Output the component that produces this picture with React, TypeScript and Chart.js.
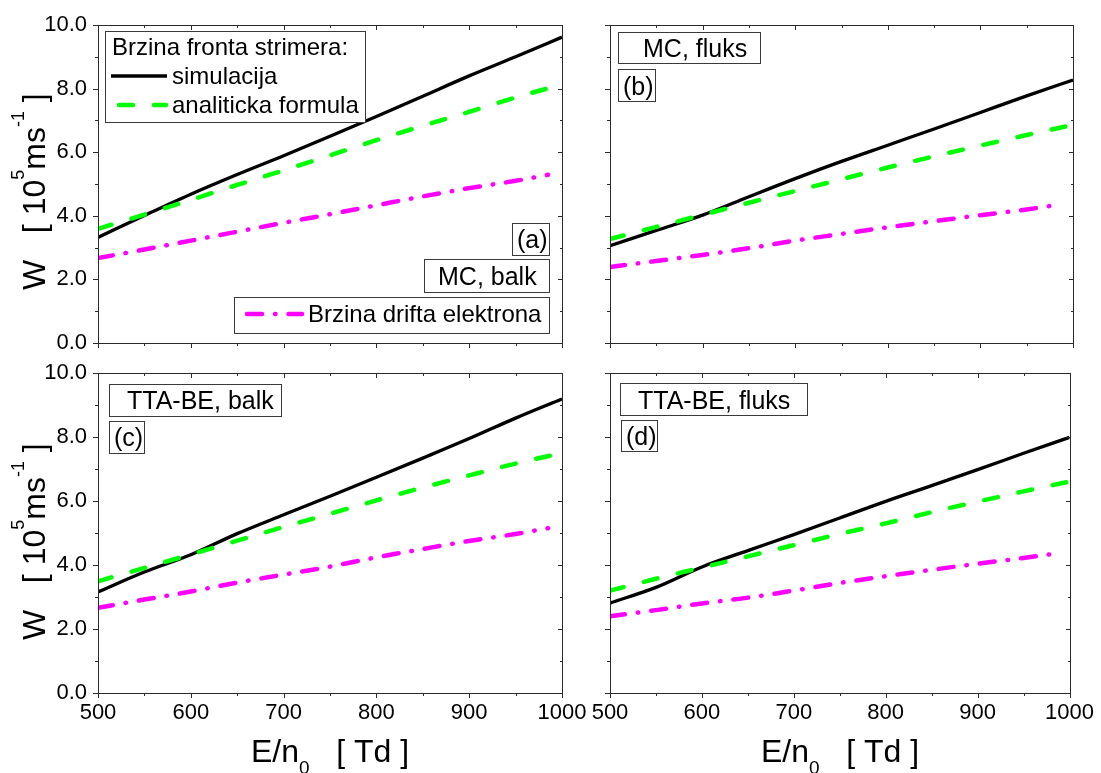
import React, { useEffect, useRef } from 'react';
import { Chart, registerables } from 'chart.js';

Chart.register(...registerables);

// ---------------- data ----------------
const E_SIM = [500, 550, 600, 650, 700, 750, 800, 850, 900, 950, 1000];
const E_DRIFT = [500, 550, 600, 650, 700, 750, 800, 850, 900, 950, 985];

const X_MAJOR = [500, 600, 700, 800, 900, 1000];
const X_MINOR = [550, 650, 750, 850, 950];
const Y_MAJOR = [0, 2, 4, 6, 8, 10];
const Y_MINOR = [1, 3, 5, 7, 9];

// (a) MC, balk
const A_SIM = [3.32, 4.01, 4.68, 5.30, 5.89, 6.50, 7.12, 7.76, 8.40, 9.00, 9.62];
const A_FORMULA = [3.59, 4.04, 4.50, 4.97, 5.43, 5.90, 6.38, 6.83, 7.27, 7.72, 8.13];
const A_DRIFT = [2.67, 2.94, 3.22, 3.50, 3.78, 4.05, 4.33, 4.61, 4.87, 5.10, 5.29];
// (b) MC, fluks
const B_SIM = [3.06, 3.54, 4.02, 4.60, 5.17, 5.71, 6.22, 6.73, 7.25, 7.77, 8.27];
const B_FORMULA = [3.27, 3.65, 4.03, 4.41, 4.78, 5.15, 5.52, 5.87, 6.21, 6.54, 6.86];
const B_DRIFT = [2.39, 2.58, 2.77, 2.98, 3.22, 3.43, 3.64, 3.83, 4.02, 4.20, 4.35];
// (c) TTA-BE, balk
const C_SIM = [3.16, 3.78, 4.32, 4.98, 5.57, 6.15, 6.74, 7.34, 7.95, 8.59, 9.19];
const C_FORMULA = [3.49, 3.91, 4.33, 4.76, 5.19, 5.60, 6.02, 6.42, 6.80, 7.17, 7.50];
const C_DRIFT = [2.66, 2.92, 3.17, 3.45, 3.70, 3.95, 4.24, 4.50, 4.75, 4.97, 5.15];
// (d) TTA-BE, fluks
const D_SIM = [2.81, 3.30, 3.94, 4.45, 4.95, 5.47, 5.99, 6.48, 6.98, 7.49, 7.99];
const D_FORMULA = [3.20, 3.57, 3.92, 4.27, 4.62, 4.97, 5.30, 5.65, 5.98, 6.30, 6.61];
const D_DRIFT = [2.40, 2.59, 2.80, 2.98, 3.20, 3.44, 3.65, 3.85, 4.04, 4.22, 4.36];

const LEGEND_TITLE = 'Brzina fronta strimera:';
const LABEL_SIM = 'simulacija';
const LABEL_FORMULA = 'analiticka formula';
const LABEL_DRIFT = 'Brzina drifta elektrona';

// ---------------- styles ----------------
const W = 1101;
const H = 773;
const FONT = '"Liberation Sans", Arial, sans-serif';
const AXIS_COLOR = '#2a2a2a';
const BOX_COLOR = '#3a3a3a';
const XH = 40;

const STYLE_SIM = { color: '#000000', width: 3.3, dash: [] as number[] };
const STYLE_FORMULA = { color: '#00ff00', width: 4.5, dash: [14, 21] };
const STYLE_DRIFT = { color: '#ff00ff', width: 4.5, dash: [15, 13, 0.5, 13] };

type Seg = { t: string; f: number; dy?: number };

function drawRich(ctx: CanvasRenderingContext2D, segs: Seg[], x: number, y: number) {
  let cx = x;
  ctx.textAlign = 'left';
  ctx.textBaseline = 'alphabetic';
  for (const s of segs) {
    ctx.font = `${s.f}px ${FONT}`;
    ctx.fillText(s.t, cx, y + (s.dy || 0));
    cx += ctx.measureText(s.t).width;
  }
}
function richWidth(ctx: CanvasRenderingContext2D, segs: Seg[]) {
  let w = 0;
  for (const s of segs) {
    ctx.font = `${s.f}px ${FONT}`;
    w += ctx.measureText(s.t).width;
  }
  return w;
}

function box(ctx: CanvasRenderingContext2D, x0: number, y0: number, x1: number, y1: number) {
  ctx.save();
  ctx.fillStyle = '#ffffff';
  ctx.fillRect(x0, y0, x1 - x0, y1 - y0);
  ctx.strokeStyle = BOX_COLOR;
  ctx.lineWidth = 1;
  ctx.strokeRect(x0 + 0.5, y0 + 0.5, x1 - x0, y1 - y0);
  ctx.restore();
}

function text(ctx: CanvasRenderingContext2D, s: string, x: number, y: number, size: number) {
  ctx.save();
  ctx.fillStyle = '#000';
  ctx.font = `${size}px ${FONT}`;
  ctx.textAlign = 'left';
  ctx.textBaseline = 'alphabetic';
  ctx.fillText(s, x, y);
  ctx.restore();
}

function sample(ctx: CanvasRenderingContext2D, st: { color: string; width: number; dash: number[] }, x0: number, x1: number, y: number) {
  ctx.save();
  ctx.strokeStyle = st.color;
  ctx.lineWidth = st.width;
  ctx.lineCap = st.dash.length ? 'round' : 'butt';
  ctx.setLineDash(st.dash);
  ctx.beginPath();
  ctx.moveTo(x0, y);
  ctx.lineTo(x1, y);
  ctx.stroke();
  ctx.restore();
}

type PanelSpec = {
  key: string;
  left: number; right: number; top: number; bottom: number;
  showX: boolean; showY: boolean;
  sim: number[]; formula: number[]; drift: number[];
  annotate: (ctx: CanvasRenderingContext2D) => void;
};

const PANELS: PanelSpec[] = [
  {
    key: 'a', left: 98, right: 562, top: 25, bottom: 343, showX: false, showY: true,
    sim: A_SIM, formula: A_FORMULA, drift: A_DRIFT,
    annotate: (ctx) => {
      box(ctx, 105, 31, 365, 122);
      text(ctx, LEGEND_TITLE, 112, 55, 24);
      sample(ctx, STYLE_SIM, 111, 167, 76);
      text(ctx, LABEL_SIM, 172, 84, 24);
      sample(ctx, STYLE_FORMULA, 119, 166, 105);
      text(ctx, LABEL_FORMULA, 172, 113, 24);
      box(ctx, 512, 223, 549, 255);
      text(ctx, '(a)', 517, 248, 25);
      box(ctx, 424, 259, 549, 292);
      text(ctx, 'MC, balk', 438, 285, 25);
      box(ctx, 234, 297, 549, 333);
      sample(ctx, STYLE_DRIFT, 247, 302, 314);
      text(ctx, LABEL_DRIFT, 308, 322, 24);
    },
  },
  {
    key: 'b', left: 610, right: 1073, top: 25, bottom: 343, showX: false, showY: false,
    sim: B_SIM, formula: B_FORMULA, drift: B_DRIFT,
    annotate: (ctx) => {
      box(ctx, 618, 32, 760, 63);
      text(ctx, 'MC, fluks', 643, 57, 25);
      box(ctx, 618, 69, 655, 101);
      text(ctx, '(b)', 623, 95, 25);
    },
  },
  {
    key: 'c', left: 98, right: 562, top: 373, bottom: 693, showX: true, showY: true,
    sim: C_SIM, formula: C_FORMULA, drift: C_DRIFT,
    annotate: (ctx) => {
      box(ctx, 109, 384, 281, 416);
      text(ctx, 'TTA-BE, balk', 127, 409, 25);
      box(ctx, 109, 421, 144, 453);
      text(ctx, '(c)', 114, 446, 25);
    },
  },
  {
    key: 'd', left: 610, right: 1073, top: 373, bottom: 693, showX: true, showY: false,
    sim: D_SIM, formula: D_FORMULA, drift: D_DRIFT,
    annotate: (ctx) => {
      box(ctx, 620, 383, 807, 415);
      text(ctx, 'TTA-BE, fluks', 638, 409, 25);
      box(ctx, 621, 420, 657, 451);
      text(ctx, '(d)', 626, 445, 25);
    },
  },
];

const Y_TITLE: Seg[] = [
  { t: 'W   [ 10', f: 32 },
  { t: '5', f: 18, dy: -21 },
  { t: 'ms', f: 32 },
  { t: '-1', f: 18, dy: -21 },
  { t: ' ]', f: 32 },
];
const X_TITLE: Seg[] = [
  { t: 'E/n', f: 32 },
  { t: '0', f: 19, dy: 12 },
  { t: '   [ Td ]', f: 32 },
];

function makePlugin(spec: PanelSpec) {
  return {
    id: 'frame_' + spec.key,
    afterDraw(chart: any) {
      const ctx: CanvasRenderingContext2D = chart.ctx;
      const xs = chart.scales.x;
      const ys = chart.scales.y;
      const { left, right, top, bottom } = chart.chartArea;
      const L = Math.round(left), R = Math.round(right), T = Math.round(top), B = Math.round(bottom);
      ctx.save();
      spec.annotate(ctx);
      ctx.strokeStyle = AXIS_COLOR;
      ctx.lineWidth = 1;
      ctx.setLineDash([]);
      ctx.strokeRect(L + 0.5, T + 0.5, R - L, B - T);
      ctx.beginPath();
      const xt = (v: number, len: number) => {
        const p = Math.round(xs.getPixelForValue(v)) + 0.5;
        ctx.moveTo(p, B); ctx.lineTo(p, B + len);
        ctx.moveTo(p, T); ctx.lineTo(p, T + len);
      };
      const yt = (v: number, len: number) => {
        const p = Math.round(ys.getPixelForValue(v)) + 0.5;
        ctx.moveTo(L, p); ctx.lineTo(L - len, p);
        ctx.moveTo(R + 1, p); ctx.lineTo(R + 1 - len, p);
      };
      X_MAJOR.forEach((v) => xt(v, 5));
      X_MINOR.forEach((v) => xt(v, 3));
      Y_MAJOR.forEach((v) => yt(v, 5));
      Y_MINOR.forEach((v) => yt(v, 3));
      ctx.stroke();

      ctx.fillStyle = '#000';
      if (spec.showY) {
        ctx.save();
        ctx.translate(45, B - 53);
        ctx.rotate(-Math.PI / 2);
        drawRich(ctx, Y_TITLE, 0, 0);
        ctx.restore();
      }
      if (spec.showX) {
        const w = richWidth(ctx, X_TITLE);
        const cx = (L + R) / 2;
        drawRich(ctx, X_TITLE, cx - w / 2, 762);
      }
      ctx.restore();
    },
  };
}

function toXY(xs: number[], ys: number[]) {
  return xs.map((x, i) => ({ x, y: ys[i] }));
}

function Panel({ spec }: { spec: PanelSpec }) {
  const ref = useRef<HTMLCanvasElement>(null);
  useEffect(() => {
    if (!ref.current) return;
    const ds = (label: string, data: any[], st: typeof STYLE_SIM) => ({
      label,
      data,
      borderColor: st.color,
      borderWidth: st.width,
      borderDash: st.dash,
      borderCapStyle: st.dash.length ? 'round' : 'butt',
      borderJoinStyle: 'round',
      pointRadius: 0,
      fill: false,
      cubicInterpolationMode: 'monotone',
    });
    const tickFont = { family: FONT, size: 22 };
    const chart = new Chart(ref.current, {
      type: 'line',
      data: {
        datasets: [
          ds(LABEL_DRIFT, toXY(E_DRIFT, spec.drift), STYLE_DRIFT),
          ds(LABEL_FORMULA, toXY(E_SIM, spec.formula), STYLE_FORMULA),
          ds(LABEL_SIM, toXY(E_SIM, spec.sim), STYLE_SIM),
        ] as any,
      },
      options: {
        responsive: false,
        animation: false,
        devicePixelRatio: 1,
        events: [],
        layout: {
          padding: { left: 0, top: spec.top, right: W - spec.right, bottom: H - spec.bottom - XH },
        },
        scales: {
          x: {
            type: 'linear',
            min: 500,
            max: 1000,
            afterFit: (s: any) => { s.height = XH; },
            grid: { display: false, drawTicks: false },
            border: { display: false },
            ticks: {
              display: spec.showX,
              stepSize: 100,
              autoSkip: false,
              maxRotation: 0,
              padding: 7,
              color: '#000',
              font: tickFont,
              callback: (v: any) => String(v),
            },
          },
          y: {
            type: 'linear',
            min: 0,
            max: 10,
            afterFit: (s: any) => { s.width = spec.left; },
            grid: { display: false, drawTicks: false },
            border: { display: false },
            ticks: {
              display: spec.showY,
              stepSize: 2,
              autoSkip: false,
              padding: 11,
              color: '#000',
              font: tickFont,
              callback: (v: any) => Number(v).toFixed(1),
            },
          },
        },
        plugins: {
          legend: { display: false },
          tooltip: { enabled: false },
        },
      } as any,
      plugins: [makePlugin(spec)],
    });
    return () => chart.destroy();
  }, [spec]);
  return (
    <canvas
      ref={ref}
      width={W}
      height={H}
      style={{ position: 'absolute', left: 0, top: 0, width: W, height: H }}
    />
  );
}

export default function App() {
  return (
    <div style={{ position: 'absolute', left: 0, top: 0, width: W, height: H, background: '#fff' }}>
      {PANELS.map((p) => (
        <Panel key={p.key} spec={p} />
      ))}
    </div>
  );
}
